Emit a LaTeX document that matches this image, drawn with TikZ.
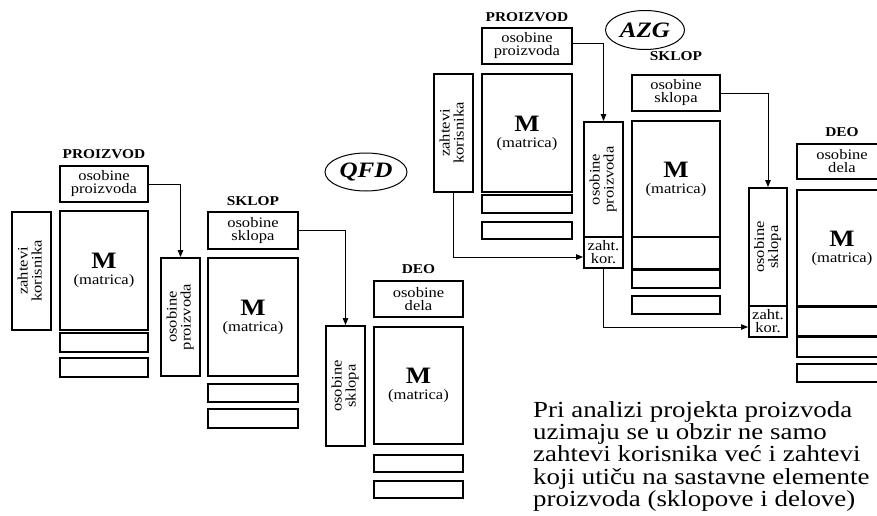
\documentclass[tikz,border=0pt]{standalone}
\usepackage{fontspec}
\setmainfont[FakeStretch=1.14]{Liberation Serif}
\newfontfamily\notefamily[FakeStretch=1.17]{Liberation Serif}
\usetikzlibrary{arrows.meta,shapes.geometric}
\newcommand\rottext[1]{\rotatebox{90}{\begin{tabular}{@{}c@{}}#1\end{tabular}}}
\newcommand\mtext{{\fontsize{23.5}{23}\selectfont\bfseries M}\\[3pt](matrica)}
\newcommand\notefont{\notefamily\fontsize{23}{22.3}\selectfont}
\tikzset{
  box/.style={draw, line width=1.9pt, inner sep=0pt, align=center,
    font=\fontsize{14.5}{13}\selectfont},
  hdr/.style={font=\fontsize{13.5}{15}\selectfont\bfseries, inner sep=0pt},
  conn/.style={line width=0.9pt, -{Triangle[length=7pt,width=5.5pt]}},
  tag/.style={draw, ellipse, line width=1pt, inner sep=0pt,
    font=\fontsize{22}{24}\selectfont\bfseries\itshape},
  note/.style={anchor=north west, inner sep=0pt, align=left, font=\notefont}
}
\begin{document}
\begin{tikzpicture}[x=1pt,y=-1pt]
\useasboundingbox (0,0) rectangle (877,516);
\clip (0,0) rectangle (877,516);

% ---------------- QFD ----------------
\node[tag, minimum width=82pt, minimum height=38pt] (qfd) at (366,172) {QFD};

% PROIZVOD
\node[hdr] (h1) at (104,154) {PROIZVOD};
\node[box, minimum width=88pt, minimum height=36pt] (op1) at (104,184) {osobine\\proizvoda};
\node[box, minimum width=88pt, minimum height=119pt] (m1) at (104,270.5) {\mtext};
\node[box, minimum width=88pt, minimum height=19pt] (r1a) at (104,342.5) {};
\node[box, minimum width=88pt, minimum height=19pt] (r1b) at (104,367.5) {};
\node[box, minimum width=39pt, minimum height=118pt] (zk1) at (31.5,271) {\rottext{zahtevi\\korisnika}};
\node[box, minimum width=39pt, minimum height=118pt] (opv1) at (180.5,317) {\rottext{osobine\\proizvoda}};

% SKLOP
\node[hdr] (h2) at (253,201) {SKLOP};
\node[box, minimum width=90pt, minimum height=37pt] (os2) at (253,230.5) {osobine\\sklopa};
\node[box, minimum width=90pt, minimum height=118pt] (m2) at (253,317) {\mtext};
\node[box, minimum width=90pt, minimum height=18pt] (r2a) at (253,393) {};
\node[box, minimum width=90pt, minimum height=19pt] (r2b) at (253,418.5) {};
\node[box, minimum width=39pt, minimum height=120pt] (osv2) at (345.5,386) {\rottext{osobine\\sklopa}};

% DEO
\node[hdr] (h3) at (418.5,269) {DEO};
\node[box, minimum width=89pt, minimum height=36pt] (od3) at (418.5,299) {osobine\\dela};
\node[box, minimum width=89pt, minimum height=117pt] (m3) at (418.5,385.5) {\mtext};
\node[box, minimum width=89pt, minimum height=17pt] (r3a) at (418.5,463.5) {};
\node[box, minimum width=89pt, minimum height=17pt] (r3b) at (418.5,489.5) {};

\draw[conn] (op1.east) -| (opv1.north);
\draw[conn] (os2.east) -| (osv2.north);

% ---------------- AZG ----------------
\node[tag, minimum width=79pt, minimum height=39pt] (azg) at (645,30) {AZG};

% PROIZVOD
\node[hdr] (h4) at (527,17) {PROIZVOD};
\node[box, minimum width=90pt, minimum height=36pt] (op4) at (527,46) {osobine\\proizvoda};
\node[box, minimum width=90pt, minimum height=118pt] (m4) at (527,133) {\mtext};
\node[box, minimum width=90pt, minimum height=18pt] (r4a) at (527,204) {};
\node[box, minimum width=90pt, minimum height=17pt] (r4b) at (527,230.5) {};
\node[box, minimum width=39pt, minimum height=118pt] (zk4) at (453.5,133) {\rottext{zahtevi\\korisnika}};
\node[box, minimum width=39pt, minimum height=115pt] (opv4) at (603.5,179.5) {\rottext{osobine\\proizvoda}};
\node[box, minimum width=39pt, minimum height=31pt] (zkr4) at (603.5,252.5) {zaht.\\kor.};

% SKLOP
\node[hdr] (h5) at (676,56) {SKLOP};
\node[box, minimum width=88pt, minimum height=36pt] (os5) at (676,93) {osobine\\sklopa};
\node[box, minimum width=88pt, minimum height=116pt] (m5) at (676,179) {\mtext};
\node[box, minimum width=88pt, minimum height=32pt] (x5) at (676,253) {};
\node[box, minimum width=88pt, minimum height=18pt] (r5a) at (676,279) {};
\node[box, minimum width=88pt, minimum height=18pt] (r5b) at (676,305) {};
\node[box, minimum width=38pt, minimum height=118pt] (osv5) at (768,247) {\rottext{osobine\\sklopa}};
\node[box, minimum width=38pt, minimum height=31pt] (zkr5) at (768,321.5) {zaht.\\kor.};

% DEO
\node[hdr] (h6) at (842,132) {DEO};
\node[box, minimum width=90pt, minimum height=35pt] (od6) at (842,161.5) {osobine\\dela};
\node[box, minimum width=90pt, minimum height=116pt] (m6) at (842,248) {\mtext};
\node[box, minimum width=90pt, minimum height=29pt] (x6) at (842,321.5) {};
\node[box, minimum width=90pt, minimum height=20pt] (r6a) at (842,347) {};
\node[box, minimum width=90pt, minimum height=18pt] (r6b) at (842,373) {};

\draw[conn] ([yshift=3pt]op4.east) -| (opv4.north);
\draw[conn] (zk4.south) |- ([yshift=-4.5pt]zkr4.west);
\draw[conn] (os5.east) -| (osv5.north);
\draw[conn] (zkr4.south) |- ([yshift=-5.5pt]zkr5.west);

% note
\node[note] (txt) at (533,401) {Pri analizi projekta proizvoda\\uzimaju se u obzir ne samo\\zahtevi korisnika već i zahtevi\\koji utiču na sastavne elemente\\proizvoda (sklopove i delove)};
\end{tikzpicture}
\end{document}
